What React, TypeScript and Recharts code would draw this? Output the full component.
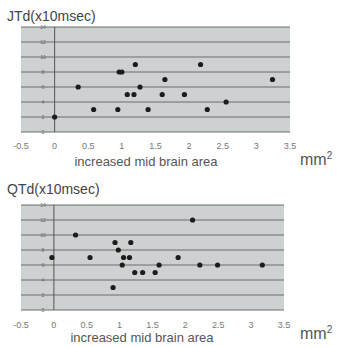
import React from "react";
import {
  CartesianGrid,
  ReferenceLine,
  Scatter,
  ScatterChart,
  XAxis,
  YAxis,
} from "recharts";

// increased mid brain area (mm2) vs dispersion (x10 msec)
const jtdArea = [0, 0.35, 0.58, 0.94, 0.96, 1.0, 1.08, 1.18, 1.2, 1.27, 1.39, 1.6, 1.64, 1.93, 2.17, 2.27, 2.55, 3.24];
const jtdValue = [2, 6, 3, 3, 8, 8, 5, 5, 9, 6, 3, 5, 7, 5, 9, 3, 4, 7];

const qtdArea = [-0.03, 0.33, 0.55, 0.9, 0.93, 0.98, 1.04, 1.06, 1.15, 1.17, 1.23, 1.35, 1.54, 1.6, 1.89, 2.11, 2.22, 2.49, 3.17];
const qtdValue = [7, 10, 7, 3, 9, 8, 6, 7, 7, 9, 5, 5, 5, 6, 7, 12, 6, 6, 6];

const xTicks = [-0.5, 0, 0.5, 1, 1.5, 2, 2.5, 3, 3.5];
const yTicks = [0, 2, 4, 6, 8, 10, 12, 14];

const font = "'Liberation Sans', Arial, sans-serif";
const textColor = "#555";

type PanelProps = {
  title: string;
  area: number[];
  value: number[];
  height: number;
  plotTop: number;
  plotLeft: number;
  plotRight: number;
  plotBottom: number;
  titleY: number;
  tickY: number;
  labelY: number;
  labelCenter: number;
  unitY: number;
};

function Dot(props: any) {
  return <circle cx={props.cx} cy={props.cy} r={2.6} fill="#1c1c1c" />;
}

function Panel({
  title,
  area,
  value,
  height,
  plotTop,
  plotLeft,
  plotRight,
  plotBottom,
  titleY,
  tickY,
  labelY,
  labelCenter,
  unitY,
}: PanelProps) {
  const data = area.map((a, i) => ({ x: a, y: value[i] }));
  const yLabelX = plotLeft + 23;

  return (
    <div style={{ position: "relative", width: 337, height }}>
      <div
        style={{
          position: "absolute",
          left: 7,
          top: titleY,
          fontFamily: font,
          fontSize: 14,
          color: "#444",
          whiteSpace: "nowrap",
        }}
      >
        {title}
      </div>
      <ScatterChart
        width={337}
        height={height}
        margin={{ top: plotTop, right: 337 - plotRight, left: plotLeft, bottom: 0 }}
      >
        <CartesianGrid
          horizontal
          vertical={false}
          stroke="#6b6d6d"
          strokeWidth={1}
          fill="#ced1d1"
          fillOpacity={1}
        />
        <XAxis
          type="number"
          dataKey="x"
          domain={[-0.5, 3.5]}
          ticks={xTicks}
          height={plotBottom}
          axisLine={false}
          tickLine={false}
          interval={0}
          tick={(p: any) => (
            <text
              x={p.x}
              y={p.y - 5 + tickY}
              textAnchor="middle"
              fontFamily={font}
              fontSize={9}
              fill="#777"
            >
              {p.payload.value}
            </text>
          )}
        />
        <YAxis
          type="number"
          dataKey="y"
          domain={[0, 14]}
          ticks={yTicks}
          width={1}
          axisLine={false}
          tickLine={false}
          interval={0}
          tick={(p: any) => (
            <text
              x={yLabelX}
              y={p.y + 2}
              textAnchor="middle"
              fontFamily={font}
              fontSize={5}
              fill="#666"
            >
              {p.payload.value}
            </text>
          )}
        />
        <ReferenceLine x={0} stroke="#555" strokeWidth={1} />
        <Scatter data={data} shape={<Dot />} isAnimationActive={false} />
      </ScatterChart>
      <div
        style={{
          position: "absolute",
          left: labelCenter - 100,
          width: 200,
          top: labelY,
          textAlign: "center",
          fontFamily: font,
          fontSize: 13,
          color: textColor,
          whiteSpace: "nowrap",
        }}
      >
        increased mid brain area
      </div>
      <div
        style={{
          position: "absolute",
          left: 300,
          top: unitY,
          fontFamily: font,
          fontSize: 16,
          color: textColor,
          whiteSpace: "nowrap",
        }}
      >
        mm<sup style={{ fontSize: 10 }}>2</sup>
      </div>
    </div>
  );
}

export default function App() {
  return (
    <div
      style={{
        position: "absolute",
        left: 0,
        top: 0,
        width: 337,
        height: 347,
        background: "#fff",
      }}
    >
      <Panel
        title="JTd(x10msec)"
        area={jtdArea}
        value={jtdValue}
        height={170}
        plotTop={27}
        plotLeft={20}
        plotRight={290}
        plotBottom={38}
        titleY={8}
        tickY={14}
        labelY={154}
        labelCenter={146}
        unitY={150}
      />
      <Panel
        title="QTd(x10msec)"
        area={qtdArea}
        value={qtdValue}
        height={177}
        plotTop={35}
        plotLeft={20}
        plotRight={284}
        plotBottom={37}
        titleY={11}
        tickY={15}
        labelY={160}
        labelCenter={142}
        unitY={154}
      />
    </div>
  );
}
